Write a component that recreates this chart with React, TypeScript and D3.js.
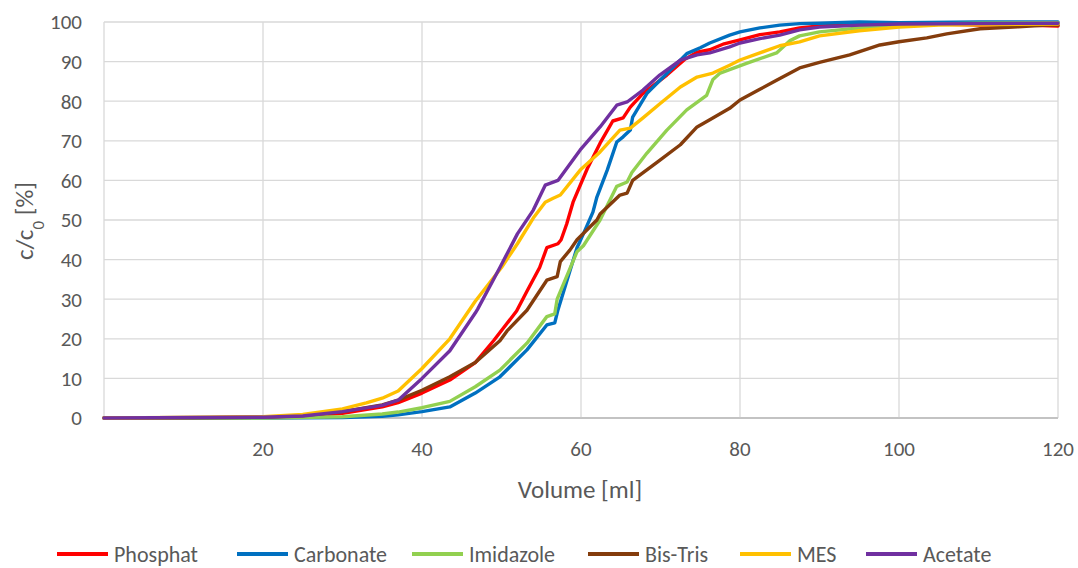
import React, { useEffect } from "react";
import * as d3 from "d3";

type Pt = [number, number];

const seriesNames = ["Phosphat", "Carbonate", "Imidazole", "Bis-Tris", "MES", "Acetate"];
const seriesColors = ["#FF0000", "#0070C0", "#92D050", "#843C0C", "#FFC000", "#7030A0"];

const phosphat: Pt[] = [[0,0],[10,0],[20,0.2],[25,0.5],[30,1.2],[35,2.8],[37,3.9],[40,6.3],[43.5,9.6],[46.7,14],[49,19.5],[51.9,27],[53.2,32],[54.8,38],[55.7,43],[57.1,44],[57.5,45],[58.2,49],[59,54.5],[60.8,63],[62.4,69.4],[64,75],[65.3,75.8],[66.2,78.5],[67.8,82],[70.8,86.6],[73,90.5],[74.6,92.4],[76.2,93],[78,94.5],[80,95.5],[82.5,96.8],[85,97.5],[87.5,98.5],[90,99],[95,99.3],[100,99.3],[105,99.5],[110,99.2],[115,99.3],[120,99]];
const carbonate: Pt[] = [[0,0],[20,0],[30,0.1],[35,0.4],[37,0.8],[40,1.6],[43.5,2.8],[46.7,6.3],[49.8,10.4],[53.2,17.2],[55.7,23.5],[56.7,24],[57.1,27.3],[59.5,43],[60.3,46.5],[61.5,52],[62,55.8],[63.3,62.6],[64.5,69.7],[65.3,71],[66.2,72.7],[66.5,76],[68.3,82],[70.8,87],[73.3,92],[75,93.5],[76.2,94.7],[78.7,96.7],[80,97.5],[82.5,98.5],[85,99.2],[87.5,99.6],[90,99.7],[95,100],[100,99.8],[110,100],[120,100]];
const imidazole: Pt[] = [[0,0],[20,0],[30,0.3],[35,1],[37,1.5],[40,2.6],[43.5,4.2],[46.7,7.9],[49.8,12.1],[53.2,18.9],[55.7,25.6],[56.7,26.3],[57,30],[59.5,42],[60.3,43.5],[62.4,50],[64.5,58.5],[65.8,59.6],[66.4,62],[68.3,66.9],[70.8,72.7],[73.3,77.8],[75.8,81.5],[76.6,85.5],[77.5,87.1],[80.9,89.6],[84.6,92.2],[86.3,95.3],[87.5,96.5],[90,97.5],[95,98.5],[100,99],[105,99.5],[110,99.7],[120,99.8]];
const bisTris: Pt[] = [[0,0],[20,0.2],[25,0.6],[30,1.6],[35,3.3],[37,4.5],[40,7],[43.5,10.4],[46.7,14],[49.8,19.5],[50.7,22],[53.2,27.2],[55.7,34.8],[57,35.7],[57.4,39.5],[58.6,42.4],[59.5,45],[62,50],[62.4,51.5],[64.9,56.3],[65.8,56.8],[66.5,60],[69.6,64.6],[72.5,69],[74.6,73.5],[76.2,75.3],[78.7,78.2],[80,80.3],[82.5,83],[84.6,85.3],[87.5,88.4],[90,89.8],[93.8,91.7],[97.6,94.2],[100,95],[103.5,96],[106,97],[110.2,98.3],[115,98.8],[118.6,99.2],[120,99.2]];
const mes: Pt[] = [[0,0],[20,0.3],[25,0.9],[30,2.3],[33,3.8],[35,5],[37,6.8],[40,12.5],[43.5,20],[46.7,29.5],[50,38],[52,44],[54,50.5],[55.5,54.5],[56.5,55.5],[57.4,56.3],[59.9,62.6],[62.4,67.2],[64.9,72.7],[66.2,73.2],[67.8,75.8],[70,79.5],[72.5,83.6],[74.6,86.1],[76.6,87.1],[78.7,89.1],[80,90.4],[82.5,92.2],[85,94],[87.5,95],[90,96.5],[95,97.8],[100,98.7],[105,99.2],[110,99.3],[120,99.5]];
const acetate: Pt[] = [[0,0],[20,0.2],[25,0.5],[30,1.6],[35,3.2],[37,4.5],[40,10],[43.5,17],[46.7,26.5],[47,27.5],[49.8,38],[52,46.5],[54,52.5],[55.5,58.8],[57.1,60],[59.9,67.7],[62.4,73.5],[64.5,79],[65.8,79.8],[67.8,82.8],[69.9,86.6],[72.5,90.4],[74.6,91.7],[76.2,92.2],[78.7,93.7],[80,94.7],[82.5,95.8],[85,96.7],[87.5,98],[90,98.7],[95,99.2],[100,99.5],[110,99.6],[120,99.7]];

const seriesData: Pt[][] = [phosphat, carbonate, imidazole, bisTris, mes, acetate];

const xTicks = [20, 40, 60, 80, 100, 120];
const yTicks = [0, 10, 20, 30, 40, 50, 60, 70, 80, 90, 100];

const legendX = [57, 237, 412, 588, 740, 866];

const W = 1078, H = 568;
const FONT = "Carlito, Calibri, Lato, sans-serif";

export default function App() {
  useEffect(() => {
    document.body.style.margin = "0";
  }, []);

  const x = d3.scaleLinear().domain([0, 120]).range([104, 1058]);
  const y = d3.scaleLinear().domain([0, 100]).range([418, 22]);
  const line = d3.line<Pt>().x(d => x(d[0])).y(d => y(d[1])).curve(d3.curveLinear);

  return (
    <svg width={W} height={H} style={{ display: "block", background: "#fff" }} fontFamily={FONT}>
      {yTicks.map(t => (
        <line key={"gy" + t} x1={x(0)} x2={x(120)} y1={y(t)} y2={y(t)} stroke={t === 0 ? "#bfbfbf" : "#d9d9d9"} strokeWidth={1.3} />
      ))}
      {[0, ...xTicks].map(t => (
        <line key={"gx" + t} x1={x(t)} x2={x(t)} y1={y(0)} y2={y(100)} stroke="#d9d9d9" strokeWidth={1.3} />
      ))}
      <line x1={x(0)} x2={x(120)} y1={y(0)} y2={y(0)} stroke="#bfbfbf" strokeWidth={1.3} />

      {seriesData.map((d, i) => (
        <path key={seriesNames[i]} d={line(d) || ""} fill="none" stroke={seriesColors[i]} strokeWidth={3.4} strokeLinejoin="round" strokeLinecap="round" />
      ))}

      {yTicks.map(t => (
        <text key={"ty" + t} x={82} y={y(t)} dy="0.35em" textAnchor="end" fontSize={21} fill="#595959">{t}</text>
      ))}
      {xTicks.map(t => (
        <text key={"tx" + t} x={x(t)} y={449} dy="0.35em" textAnchor="middle" fontSize={21} fill="#595959">{t}</text>
      ))}

      <text x={580} y={489} dy="0.35em" textAnchor="middle" fontSize={25} fill="#595959">Volume [ml]</text>
      <text transform="translate(24,221) rotate(-90)" textAnchor="middle" dy="0.35em" fontSize={25} fill="#595959">
        c/c<tspan baselineShift="sub" fontSize={17}>0</tspan> [%]
      </text>

      {seriesNames.map((n, i) => (
        <g key={"lg" + n} transform={`translate(${legendX[i]},554)`}>
          <line x1={0} x2={51} y1={0} y2={0} stroke={seriesColors[i]} strokeWidth={4} />
          <text x={57} y={0} dy="0.35em" fontSize={22} fill="#595959">{n}</text>
        </g>
      ))}
    </svg>
  );
}
